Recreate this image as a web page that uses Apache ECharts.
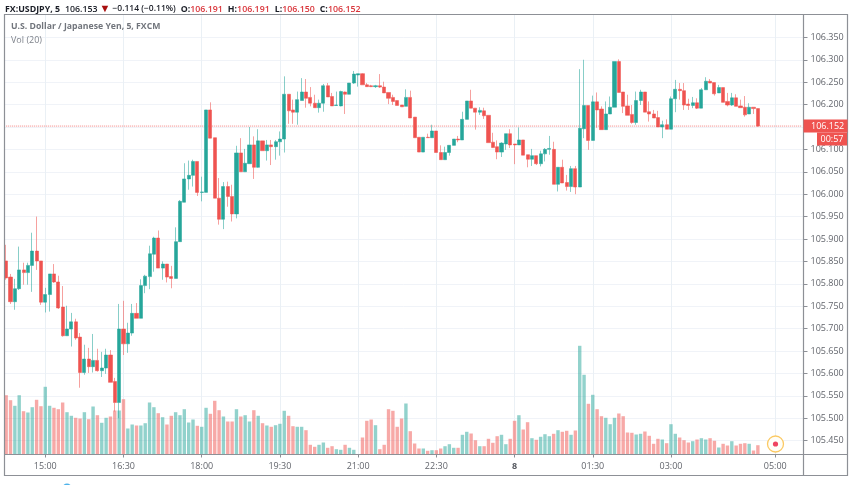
<!DOCTYPE html>
<html>
<head>
<meta charset="utf-8">
<title>USDJPY 5m</title>
<script src="https://cdn.jsdelivr.net/npm/echarts@6/dist/echarts.min.js"></script>
<style>
  html, body { margin: 0; padding: 0; background: #fff; }
  #main { width: 852px; height: 485px; }
</style>
</head>
<body>
<div id="main"></div>
<script>
// 5 minute bars, first bar is 14:15
const opens = [
  105.851, 105.815, 105.760, 105.789, 105.831, 105.825, 105.841, 105.873, 105.851, 105.759,
  105.776, 105.822, 105.804, 105.748, 105.684, 105.699, 105.715, 105.681, 105.602, 105.632,
  105.615, 105.629, 105.606, 105.612, 105.641, 105.582, 105.535, 105.699, 105.666, 105.690,
  105.734, 105.723, 105.796, 105.816, 105.866, 105.902, 105.835, 105.844, 105.816, 105.812,
  105.894, 105.982, 106.034, 106.042, 106.073, 106.004, 106.004, 106.188, 106.126, 105.991,
  105.944, 106.017, 105.995, 105.956, 106.092, 106.050, 106.068, 106.110, 106.060, 106.119,
  106.097, 106.110, 106.106, 106.117, 106.123, 106.223, 106.188, 106.183, 106.209, 106.228,
  106.216, 106.203, 106.193, 106.203, 106.242, 106.218, 106.198, 106.197, 106.228, 106.223,
  106.248, 106.266, 106.269, 106.244, 106.242, 106.240, 106.242, 106.239, 106.227, 106.216,
  106.209, 106.199, 106.196, 106.216, 106.172, 106.127, 106.094, 106.127, 106.126, 106.141,
  106.093, 106.077, 106.093, 106.109, 106.123, 106.121, 106.167, 106.208, 106.192, 106.183,
  106.186, 106.176, 106.116, 106.106, 106.094, 106.112, 106.135, 106.112, 106.110, 106.121,
  106.088, 106.078, 106.086, 106.068, 106.090, 106.100, 106.100, 106.022, 106.060, 106.026,
  106.017, 106.057, 106.016, 106.146, 106.198, 106.120, 106.206, 106.190, 106.144, 106.179,
  106.194, 106.296, 106.228, 106.197, 106.178, 106.160, 106.209, 106.228, 106.184, 106.179,
  106.171, 106.150, 106.155, 106.145, 106.213, 106.234, 106.231, 106.201, 106.198, 106.204,
  106.192, 106.233, 106.252, 106.249, 106.226, 106.238, 106.207, 106.199, 106.215, 106.197,
  106.194, 106.179, 106.194, 106.191
];
const closes = [
  105.813, 105.760, 105.789, 105.831, 105.825, 105.841, 105.873, 105.851, 105.759, 105.776,
  105.822, 105.804, 105.746, 105.684, 105.699, 105.715, 105.679, 105.602, 105.632, 105.615,
  105.629, 105.606, 105.612, 105.641, 105.580, 105.535, 105.699, 105.666, 105.690, 105.734,
  105.723, 105.796, 105.817, 105.867, 105.902, 105.835, 105.844, 105.815, 105.812, 105.894,
  105.984, 106.034, 106.042, 106.073, 106.004, 106.005, 106.188, 106.125, 105.991, 105.944,
  106.017, 105.995, 105.956, 106.092, 106.050, 106.069, 106.110, 106.060, 106.119, 106.097,
  106.110, 106.106, 106.117, 106.123, 106.223, 106.186, 106.183, 106.211, 106.228, 106.214,
  106.203, 106.193, 106.203, 106.242, 106.217, 106.197, 106.199, 106.229, 106.223, 106.248,
  106.268, 106.269, 106.244, 106.240, 106.240, 106.242, 106.239, 106.226, 106.214, 106.207,
  106.198, 106.195, 106.216, 106.170, 106.126, 106.094, 106.127, 106.126, 106.141, 106.093,
  106.077, 106.093, 106.109, 106.123, 106.121, 106.167, 106.208, 106.192, 106.183, 106.187,
  106.175, 106.115, 106.104, 106.094, 106.114, 106.135, 106.110, 106.110, 106.121, 106.087,
  106.078, 106.086, 106.068, 106.090, 106.100, 106.102, 106.022, 106.060, 106.025, 106.017,
  106.057, 106.016, 106.147, 106.198, 106.120, 106.206, 106.188, 106.144, 106.179, 106.194,
  106.296, 106.227, 106.196, 106.176, 106.160, 106.209, 106.228, 106.183, 106.179, 106.170,
  106.150, 106.155, 106.145, 106.213, 106.234, 106.231, 106.199, 106.198, 106.204, 106.192,
  106.233, 106.252, 106.248, 106.224, 106.238, 106.205, 106.199, 106.215, 106.196, 106.193,
  106.177, 106.194, 106.191, 106.152
];
const highs = [
  105.887, 105.822, 105.811, 105.883, 105.847, 105.847, 105.914, 105.950, 105.851, 105.791,
  105.822, 105.844, 105.818, 105.795, 105.751, 105.735, 105.722, 105.690, 105.664, 105.657,
  105.688, 105.655, 105.648, 105.655, 105.652, 105.590, 105.755, 105.762, 105.713, 105.755,
  105.757, 105.810, 105.820, 105.885, 105.905, 105.919, 105.850, 105.844, 105.840, 105.926,
  105.987, 106.069, 106.075, 106.077, 106.073, 106.039, 106.188, 106.205, 106.126, 106.036,
  106.027, 106.028, 106.021, 106.108, 106.125, 106.101, 106.150, 106.129, 106.145, 106.119,
  106.121, 106.121, 106.121, 106.140, 106.263, 106.223, 106.211, 106.229, 106.259, 106.257,
  106.239, 106.222, 106.211, 106.246, 106.248, 106.226, 106.229, 106.231, 106.229, 106.248,
  106.275, 106.269, 106.270, 106.248, 106.244, 106.244, 106.268, 106.251, 106.227, 106.222,
  106.209, 106.199, 106.234, 106.231, 106.172, 106.127, 106.127, 106.135, 106.155, 106.141,
  106.109, 106.106, 106.109, 106.123, 106.130, 106.184, 106.208, 106.233, 106.192, 106.194,
  106.193, 106.176, 106.137, 106.120, 106.116, 106.135, 106.145, 106.112, 106.149, 106.121,
  106.088, 106.101, 106.086, 106.097, 106.103, 106.130, 106.117, 106.060, 106.077, 106.043,
  106.063, 106.063, 106.279, 106.300, 106.198, 106.220, 106.227, 106.196, 106.207, 106.218,
  106.296, 106.301, 106.228, 106.222, 106.199, 106.229, 106.233, 106.228, 106.207, 106.188,
  106.186, 106.164, 106.167, 106.218, 106.255, 106.248, 106.248, 106.213, 106.217, 106.214,
  106.237, 106.261, 106.257, 106.249, 106.244, 106.238, 106.226, 106.226, 106.223, 106.211,
  106.219, 106.203, 106.194, 106.191
];
const lows = [
  105.809, 105.755, 105.742, 105.786, 105.798, 105.798, 105.782, 105.831, 105.753, 105.736,
  105.738, 105.802, 105.744, 105.682, 105.684, 105.660, 105.675, 105.568, 105.597, 105.601,
  105.602, 105.604, 105.592, 105.599, 105.580, 105.515, 105.500, 105.641, 105.646, 105.684,
  105.723, 105.723, 105.779, 105.788, 105.827, 105.835, 105.809, 105.803, 105.790, 105.812,
  105.894, 105.982, 106.010, 106.017, 105.996, 105.984, 106.004, 106.125, 105.991, 105.932,
  105.922, 105.972, 105.939, 105.946, 106.050, 106.050, 106.068, 106.034, 106.059, 106.097,
  106.075, 106.065, 106.077, 106.086, 106.093, 106.157, 106.157, 106.155, 106.209, 106.193,
  106.196, 106.193, 106.182, 106.184, 106.217, 106.197, 106.197, 106.196, 106.179, 106.223,
  106.246, 106.240, 106.244, 106.240, 106.239, 106.237, 106.237, 106.226, 106.201, 106.199,
  106.198, 106.195, 106.196, 106.170, 106.126, 106.094, 106.094, 106.126, 106.126, 106.093,
  106.077, 106.077, 106.086, 106.109, 106.116, 106.121, 106.167, 106.192, 106.144, 106.177,
  106.168, 106.115, 106.103, 106.078, 106.083, 106.099, 106.103, 106.067, 106.110, 106.087,
  106.060, 106.063, 106.065, 106.062, 106.073, 106.088, 106.022, 106.006, 106.025, 106.008,
  106.005, 106.000, 106.016, 106.125, 106.099, 106.120, 106.148, 106.144, 106.144, 106.179,
  106.194, 106.227, 106.181, 106.176, 106.157, 106.155, 106.199, 106.183, 106.162, 106.170,
  106.150, 106.125, 106.145, 106.145, 106.183, 106.211, 106.188, 106.188, 106.192, 106.190,
  106.192, 106.233, 106.248, 106.220, 106.226, 106.205, 106.196, 106.197, 106.196, 106.193,
  106.173, 106.179, 106.179, 106.150
];
// no scale on the chart for volume, so these are relative
const volumes = [
  59.3, 54.3, 48.7, 59.3, 43.3, 42, 47.3, 54.7, 48.3, 67.7,
  48.7, 46.7, 45.3, 52, 42.3, 38.7, 36.7, 36, 42.3, 35.3,
  48, 39.3, 31.7, 36.7, 38, 44, 44, 55.3, 26, 30,
  29, 29, 31.3, 52, 47.3, 41.3, 37.3, 30, 38.7, 42.3,
  39.3, 45.3, 32, 35, 28.7, 27.7, 46.7, 40.7, 53.7, 44.3,
  38, 33, 33, 45.3, 38, 39.3, 33, 44.3, 38.7, 31.3,
  29, 27.7, 29.3, 30.7, 43.7, 38.7, 28.3, 27.7, 27.7, 24.3,
  9.7, 7.7, 9.7, 12, 6.7, 8.3, 5.3, 4.7, 9.7, 6.7,
  4.7, 0.5, 17, 33.7, 35, 29.3, 5.3, 9.7, 45.3, 43.7,
  27.7, 36, 51, 23.3, 11, 6, 6, 3.7, 4.3, 4.3,
  6, 8.3, 10.3, 6.7, 6.7, 19.7, 22.7, 21, 14.3, 8.3,
  8.3, 15.7, 11.7, 18.3, 19.7, 10.3, 15.7, 33.7, 39.3, 25,
  32.3, 16.3, 14.7, 17.7, 20.3, 18.3, 20.7, 24.3, 22.7, 23.7,
  19.7, 24, 108.7, 79.7, 50.7, 59.7, 45.3, 38.3, 36.7, 30.3,
  36.7, 41, 38.3, 22, 21.7, 20, 20.7, 23, 18.7, 10.7,
  15.7, 15, 11.3, 30.3, 20.7, 17, 14.3, 12, 13.3, 15,
  16.3, 15, 16.3, 13.7, 7, 10.7, 9, 13.3, 9, 10.7,
  11.3, 10.7, 4, 9.3
];
const priceTicks = [
  105.45, 105.5, 105.55, 105.6, 105.65, 105.7, 105.75, 105.8, 105.85, 105.9,
  105.95, 106, 106.05, 106.1, 106.15, 106.2, 106.25, 106.3, 106.35
];
const timeTicks = ['15:00', '16:30', '18:00', '19:30', '21:00', '22:30', '00:00', '01:30', '03:00', '05:00'];
const lastPrice = 106.152;

// axis runs on past the last bar, 14:15 up to about 05:30
const times = [];
for (let n = 0; n < 184; n++) {
  const m = (14 * 60 + 15 + n * 5) % 1440;
  times.push(String(Math.floor(m / 60)).padStart(2, '0') + ':' + String(m % 60).padStart(2, '0'));
}

const UP = '#26a69a', DOWN = '#ef5350';
const FONT = '"Open Sans", sans-serif';
const isTick = function (i, name) { return timeTicks.indexOf(name) >= 0; };

const candleData = opens.map(function (o, i) { return [o, closes[i], lows[i], highs[i]]; });
const volumeData = volumes.map(function (v, i) {
  return { value: v, itemStyle: { color: closes[i] >= opens[i] ? UP : DOWN, opacity: 0.5 } };
});

const myChart = echarts.init(document.getElementById('main'), null, { renderer: 'canvas' });

const border = '#8d9096';

myChart.setOption({
  animation: false,
  backgroundColor: '#fff',
  title: [
    {
      left: 5, top: 0, padding: 0,
      text: '{b|FX:USDJPY, 5} {n|106.153}{t|▼}{c|−0.114 (−0.11%)} {b|O:}{r|106.191} {b|H:}{r|106.191} {b|L:}{r|106.150} {b|C:}{r|106.152}',
      textStyle: {
        rich: {
          b: { fontFamily: FONT, fontSize: 8.8, fontWeight: 700, color: '#1a1d26' },
          n: { fontFamily: FONT, fontSize: 8.8, fontWeight: 600, color: '#1a1d26' },
          c: { fontFamily: FONT, fontSize: 8.5, fontWeight: 600, color: '#1a1d26' },
          r: { fontFamily: FONT, fontSize: 8.8, fontWeight: 600, color: '#d9343a' },
          t: { fontFamily: FONT, fontSize: 11, color: '#a80f0f', padding: [0, 2, 0, 2] }
        }
      }
    },
    { left: 11, top: 22, padding: 0, text: 'U.S. Dollar / Japanese Yen, 5, FXCM', textStyle: { fontFamily: FONT, fontSize: 8.7, fontWeight: 700, color: '#71757c' } },
    { left: 11, top: 35.5, padding: 0, text: 'Vol (20)', textStyle: { fontFamily: FONT, fontSize: 9, fontWeight: 400, color: '#7f838b' } }
  ],
  grid: { left: 4, right: 48.5, top: 14.5, bottom: 30.5 },
  xAxis: {
    type: 'category',
    data: times,
    boundaryGap: true,
    axisLine: { show: false },
    axisTick: { show: true, interval: isTick, alignWithLabel: true, length: 3, lineStyle: { color: border } },
    splitLine: { show: true, interval: isTick, alignWithLabel: true, lineStyle: { color: '#eaf0f5', width: 1 } },
    axisLabel: {
      interval: isTick,
      margin: 7,
      color: '#62656c',
      fontFamily: FONT,
      fontSize: 9,
      formatter: function (v) { return v === '00:00' ? '{day|8}' : v; },
      rich: { day: { fontFamily: FONT, fontSize: 9, fontWeight: 700, color: '#55585f' } }
    }
  },
  yAxis: [
    {
      type: 'value',
      position: 'right',
      min: 105.419,
      max: 106.401,
      scale: true,
      axisLine: { show: false },
      axisTick: { show: true, length: 4, customValues: priceTicks, lineStyle: { color: border } },
      splitLine: { show: true, lineStyle: { color: '#f0f3f8', width: 1 } },
      axisLabel: {
        customValues: priceTicks,
        margin: 7,
        color: '#62656c',
        fontFamily: FONT,
        fontSize: 9,
        formatter: function (v) { return v.toFixed(3); }
      }
    },
    { type: 'value', min: 0, max: 440, show: false, splitLine: { show: false } }
  ],
  series: [
    {
      // flat line at the last price
      name: 'Last',
      type: 'line',
      yAxisIndex: 0,
      data: times.map(function () { return lastPrice; }),
      showSymbol: false,
      symbol: 'none',
      lineStyle: { color: '#f4817f', type: 'dotted', width: 1 },
      z: 1
    },
    { name: 'Vol', type: 'bar', yAxisIndex: 1, barWidth: 3.4, data: volumeData, z: 2 },
    {
      name: 'USDJPY',
      type: 'candlestick',
      yAxisIndex: 0,
      barWidth: 3.6,
      data: candleData,
      z: 3,
      itemStyle: {
        color: UP,
        color0: DOWN,
        borderColor: 'rgba(38,166,154,0.55)',
        borderColor0: 'rgba(239,83,80,0.55)',
        borderWidth: 1
      }
    }
  ],
  graphic: [
    // frame and the axis rules run past the plot, so they are drawn by hand
    { type: 'rect', silent: true, z: 10, shape: { x: 4.5, y: 14.5, width: 843, height: 461 }, style: { fill: null, stroke: border, lineWidth: 1.2 } },
    { type: 'line', silent: true, z: 10, shape: { x1: 803.5, y1: 14.5, x2: 803.5, y2: 475.5 }, style: { stroke: border, lineWidth: 1.2 } },
    { type: 'line', silent: true, z: 10, shape: { x1: 4.5, y1: 454.5, x2: 847.5, y2: 454.5 }, style: { stroke: border, lineWidth: 1.2 } },
    // price tag and countdown on the axis
    { type: 'rect', silent: true, z: 10, shape: { x: 803.5, y: 119.5, width: 44, height: 13 }, style: { fill: DOWN } },
    { type: 'text', silent: true, z: 11, style: { x: 811, y: 126, text: lastPrice.toFixed(3), fill: '#fff', font: '9px ' + FONT, textAlign: 'left', textVerticalAlign: 'middle' } },
    { type: 'rect', silent: true, z: 10, shape: { x: 817, y: 132.5, width: 30, height: 13 }, style: { fill: DOWN } },
    { type: 'text', silent: true, z: 11, style: { x: 832, y: 139, text: '00:57', fill: '#fff', font: '9px ' + FONT, textAlign: 'center', textVerticalAlign: 'middle' } },
    // replay marker and the clipped dot at the bottom edge
    { type: 'circle', silent: true, z: 10, shape: { cx: 775.5, cy: 444, r: 8 }, style: { fill: '#fffef8', stroke: '#fbc963', lineWidth: 1.3 } },
    { type: 'circle', silent: true, z: 11, shape: { cx: 775.5, cy: 444, r: 2.6 }, style: { fill: '#ef4460' } },
    { type: 'circle', silent: true, z: 10, shape: { cx: 67, cy: 488, r: 4.5 }, style: { fill: '#4fb3ea' } }
  ]
});

window.addEventListener('resize', function () { myChart.resize(); });
</script>
</body>
</html>
